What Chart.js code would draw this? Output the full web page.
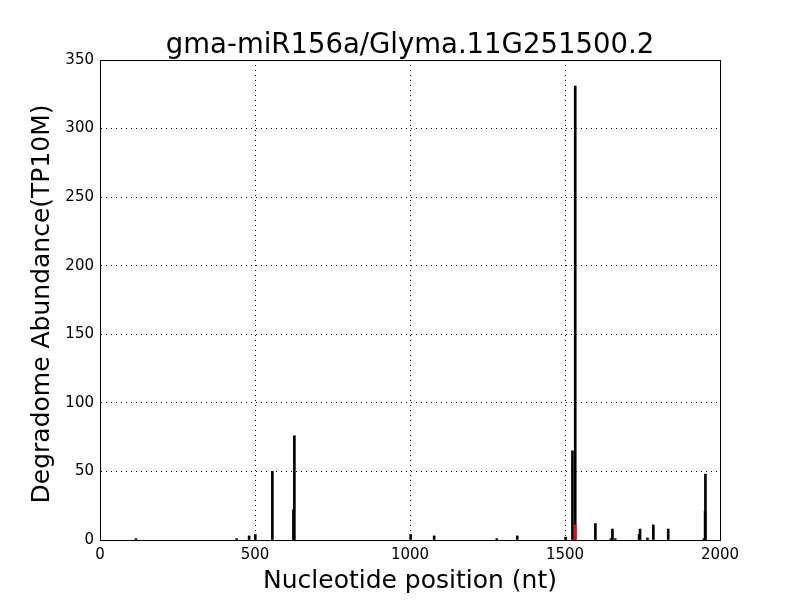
<!DOCTYPE html>
<html>
<head>
<meta charset="utf-8">
<script src="https://cdn.jsdelivr.net/npm/chart.js@4/dist/chart.umd.min.js"></script>
<style>
  html, body { margin: 0; padding: 0; background: #fff; }
  #wrap { width: 800px; height: 600px; }
</style>
</head>
<body>
<div id="wrap"><canvas id="deg-chart" width="800" height="600"></canvas></div>
<script>
// nucleotide position vs abundance
const positions = [116, 441, 481, 501, 556, 624, 627, 1002, 1078, 1280, 1346, 1502, 1524, 1533,
                   1598, 1648, 1653, 1662, 1739, 1742, 1766, 1785, 1833, 1948, 1952, 1953];
const abundance = [1, 1, 3, 4, 50, 22, 76, 4, 3, 1, 3, 2, 65, 331,
                   12, 1, 8, 1, 4, 8, 1.5, 11, 8, 1, 21, 48];
// the cleavage site (red)
const sitePositions = [1533];
const siteAbundance = [11];

const xTicks = [0, 500, 1000, 1500, 2000];
const yTicks = [0, 50, 100, 150, 200, 250, 300, 350];

const titleText = 'gma-miR156a/Glyma.11G251500.2';
const FONT = "'DejaVu Sans', sans-serif";

function toPoints(xs, ys){
    return xs.map((x, i) => ({x: x, y: ys[i]}));
}

// title + box around plot area (matplotlib look)
const framePlugin = {
    id: 'frame',
    afterDraw(chart){
        const ctx = chart.ctx;
        const a = chart.chartArea;
        ctx.save();
        ctx.strokeStyle = '#000';
        ctx.lineWidth = 1;
        ctx.strokeRect(Math.round(a.left) + 0.5, Math.round(a.top) + 0.5,
                       Math.round(a.right - a.left), Math.round(a.bottom - a.top));
        ctx.fillStyle = '#000';
        ctx.font = '27.5px ' + FONT;
        ctx.textAlign = 'center';
        ctx.textBaseline = 'alphabetic';
        ctx.fillText(titleText, (a.left + a.right) / 2, 53);
        ctx.restore();
    }
};

const config = {
    type: 'bar',
    data: {
        datasets: [{
            label: 'site',
            data: toPoints(sitePositions, siteAbundance),
            backgroundColor: '#ff0000',
            barThickness: 2,
            grouped: false
        },{
            label: 'abundance',
            data: toPoints(positions, abundance),
            backgroundColor: '#000000',
            barThickness: 2,
            grouped: false
        }]
    },
    options: {
        responsive: false,
        animation: false,
        layout: { padding: { top: 60, right: 80, left: 0, bottom: 0 } },
        plugins: {
            legend: { display: false },
            tooltip: { enabled: false }
        },
        scales: {
            x: {
                type: 'linear',
                min: 0,
                max: 2000,
                offset: false,
                afterBuildTicks: (s) => { s.ticks = xTicks.map(v => ({value: v})); },
                afterFit: (s) => { s.height = 60; },
                ticks: {
                    color: '#000', padding: 6, font: { family: FONT, size: 15 },
                    callback: (v) => String(v)
                },
                grid: { color: '#000', lineWidth: 1, drawTicks: false, offset: false },
                border: { color: '#000', dash: [1, 4] },
                title: {
                    display: true,
                    text: 'Nucleotide position (nt)',
                    color: '#000',
                    font: { family: FONT, size: 25 },
                    padding: { top: 0, bottom: 4 }
                }
            },
            y: {
                min: 0,
                max: 350,
                afterBuildTicks: (s) => { s.ticks = yTicks.map(v => ({value: v})); },
                afterFit: (s) => { s.width = 100; },
                ticks: {
                    color: '#000', padding: 6, font: { family: FONT, size: 15 },
                    callback: (v) => String(v)
                },
                grid: { color: '#000', lineWidth: 1, drawTicks: false },
                border: { color: '#000', dash: [1, 4] },
                title: {
                    display: true,
                    text: 'Degradome Abundance(TP10M) ',
                    color: '#000',
                    font: { family: FONT, size: 25 },
                    padding: { top: 27, bottom: 0 }
                }
            }
        }
    },
    plugins: [framePlugin]
};

const degChart = new Chart(document.getElementById('deg-chart'), config);
</script>
</body>
</html>
